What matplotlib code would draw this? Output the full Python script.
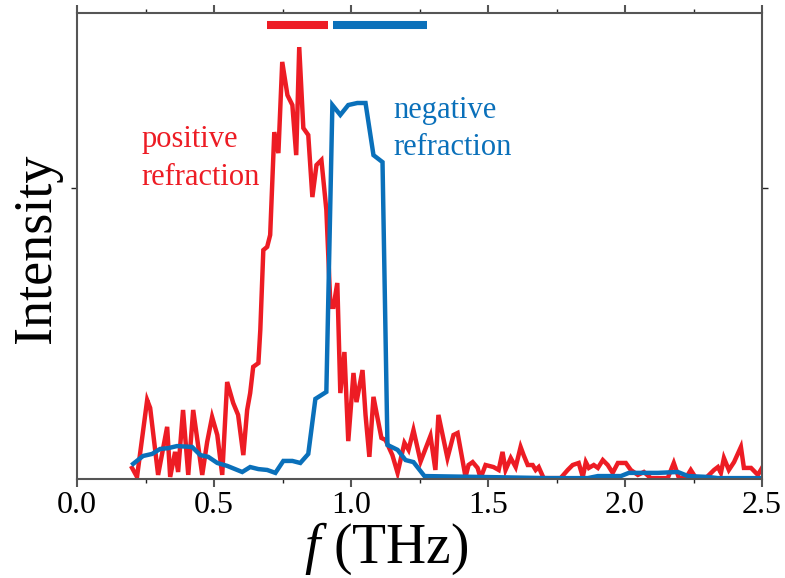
import matplotlib
matplotlib.use("Agg")
import matplotlib.pyplot as plt
from matplotlib.ticker import MultipleLocator

# positive refraction spectrum (red)
red_f = [0.201, 0.219, 0.256, 0.267, 0.296, 0.329, 0.340, 0.358, 0.369, 0.387,
         0.406, 0.424, 0.457, 0.475, 0.493, 0.512, 0.530, 0.548, 0.570, 0.588,
         0.607, 0.621, 0.632, 0.643, 0.662, 0.669, 0.680, 0.694, 0.705, 0.720,
         0.735, 0.749, 0.768, 0.786, 0.800, 0.811, 0.826, 0.844, 0.859, 0.874,
         0.892, 0.910, 0.925, 0.936, 0.950, 0.961, 0.976, 0.990, 1.009, 1.020,
         1.042, 1.053, 1.067, 1.082, 1.096, 1.111, 1.126, 1.151, 1.170, 1.195,
         1.210, 1.228, 1.254, 1.290, 1.308, 1.319, 1.352, 1.374, 1.389, 1.418,
         1.429, 1.444, 1.462, 1.473, 1.491, 1.520, 1.539, 1.553, 1.564, 1.583,
         1.601, 1.619, 1.630, 1.645, 1.663, 1.674, 1.685, 1.703, 1.729, 1.765,
         1.791, 1.809, 1.831, 1.846, 1.857, 1.868, 1.886, 1.901, 1.919, 1.937,
         1.955, 1.974, 2.003, 2.021, 2.047, 2.069, 2.094, 2.120, 2.156, 2.178,
         2.197, 2.222, 2.240, 2.259, 2.295, 2.325, 2.339, 2.350, 2.361, 2.379,
         2.398, 2.423, 2.434, 2.460, 2.485, 2.500]
red_i = [0.038, 0.007, 0.271, 0.244, 0.014, 0.179, 0.007, 0.093, 0.024, 0.237,
         0.014, 0.237, 0.014, 0.127, 0.213, 0.151, 0.014, 0.333, 0.261, 0.220,
         0.082, 0.237, 0.295, 0.385, 0.398, 0.512, 0.786, 0.797, 0.838, 1.191,
         1.119, 1.432, 1.318, 1.284, 1.112, 1.483, 1.205, 1.181, 0.968, 1.078,
         1.095, 0.924, 0.591, 0.591, 0.673, 0.295, 0.436, 0.130, 0.364, 0.264,
         0.374, 0.220, 0.076, 0.282, 0.213, 0.141, 0.134, 0.082, 0.021, 0.124,
         0.100, 0.168, 0.060, 0.148, 0.031, 0.220, 0.072, 0.151, 0.158, 0.007,
         0.048, 0.058, 0.038, 0.003, 0.048, 0.041, 0.031, 0.093, 0.031, 0.072,
         0.041, 0.110, 0.082, 0.048, 0.048, 0.031, 0.041, 0.003, 0.003, 0.003,
         0.031, 0.048, 0.055, 0.007, 0.058, 0.038, 0.048, 0.038, 0.065, 0.048,
         0.021, 0.055, 0.055, 0.031, 0.014, 0.024, 0.003, 0.003, 0.003, 0.055,
         0.003, 0.003, 0.031, 0.003, 0.003, 0.031, 0.041, 0.021, 0.072, 0.031,
         0.058, 0.110, 0.038, 0.038, 0.014, 0.038]

# negative refraction spectrum (blue)
blue_f = [0.205, 0.241, 0.274, 0.303, 0.333, 0.365, 0.420, 0.450, 0.479, 0.512,
          0.548, 0.603, 0.632, 0.662, 0.694, 0.724, 0.753, 0.786, 0.815, 0.844,
          0.870, 0.910, 0.932, 0.961, 0.990, 1.023, 1.053, 1.082, 1.115, 1.133,
          1.170, 1.199, 1.228, 1.268, 1.473, 1.718, 1.864, 1.901, 1.985, 2.014,
          2.120, 2.193, 2.230, 2.303, 2.339, 2.500]
blue_i = [0.052, 0.079, 0.086, 0.103, 0.106, 0.113, 0.110, 0.082, 0.076, 0.055,
          0.045, 0.024, 0.041, 0.034, 0.031, 0.021, 0.062, 0.062, 0.055, 0.086,
          0.275, 0.299, 1.284, 1.250, 1.284, 1.291, 1.291, 1.112, 1.088, 0.117,
          0.100, 0.065, 0.058, 0.010, 0.007, 0.003, 0.003, 0.010, 0.010, 0.021,
          0.021, 0.024, 0.010, 0.007, 0.003, 0.003]

# frequency bands marked at the top
red_band = [0.694, 0.917]
blue_band = [0.936, 1.279]
band_level = 1.559

RED = "#ED1C24"
BLUE = "#0A70BA"
AXC = "#555555"

plt.rcParams['font.family'] = ['Liberation Serif', 'DejaVu Serif']
plt.rcParams['mathtext.fontset'] = 'custom'
plt.rcParams['mathtext.it'] = 'Liberation Serif:italic'
plt.rcParams['mathtext.rm'] = 'Liberation Serif'

fig = plt.figure(figsize=(7.85, 5.78), dpi=100)
ax = fig.add_axes([0.0981, 0.1713, 0.8726, 0.8062])

ax.plot(red_f, red_i, color=RED, lw=3.2, solid_joinstyle='miter')
ax.plot(blue_f, blue_i, color=BLUE, lw=3.2, solid_joinstyle='miter')

ax.hlines(band_level, red_band[0], red_band[1], color=RED, lw=5.8)
ax.hlines(band_level, blue_band[0], blue_band[1], color=BLUE, lw=5.8)

ax.text(0.234, 1.140, "positive", color=RED, fontsize=22, va='baseline')
ax.text(0.234, 1.009, "refraction", color=RED, fontsize=22, va='baseline')
ax.text(1.155, 1.239, "negative", color=BLUE, fontsize=22, va='baseline')
ax.text(1.155, 1.112, "refraction", color=BLUE, fontsize=22, va='baseline')

ax.set_xlim(0, 2.5)
ax.set_ylim(0, 1.6)
ax.xaxis.set_major_locator(MultipleLocator(0.5))
ax.xaxis.set_minor_locator(MultipleLocator(0.25))
ax.xaxis.set_major_formatter(plt.FormatStrFormatter('%.1f'))
ax.set_yticks([1.0])
ax.set_yticklabels([])

for s in ax.spines.values():
    s.set_color(AXC)
    s.set_linewidth(1.5)

ax.tick_params(axis='x', which='major', direction='out', length=6, width=1.5,
               color=AXC, top=True, labelsize=23, pad=3)
ax.tick_params(axis='x', which='minor', direction='out', length=3, width=1.0,
               color='#222222', top=True)
ax.tick_params(axis='y', direction='out', length=4, width=1.0, color='#222222',
               right=True)

fig.text(0.047, 0.571, "Intensity", rotation=90, ha='center', va='center',
         fontsize=39)
fig.text(0.492, 0.05, "$f$ (THz)", ha='center', va='center', fontsize=40)

fig.savefig("out.png", dpi=100)
